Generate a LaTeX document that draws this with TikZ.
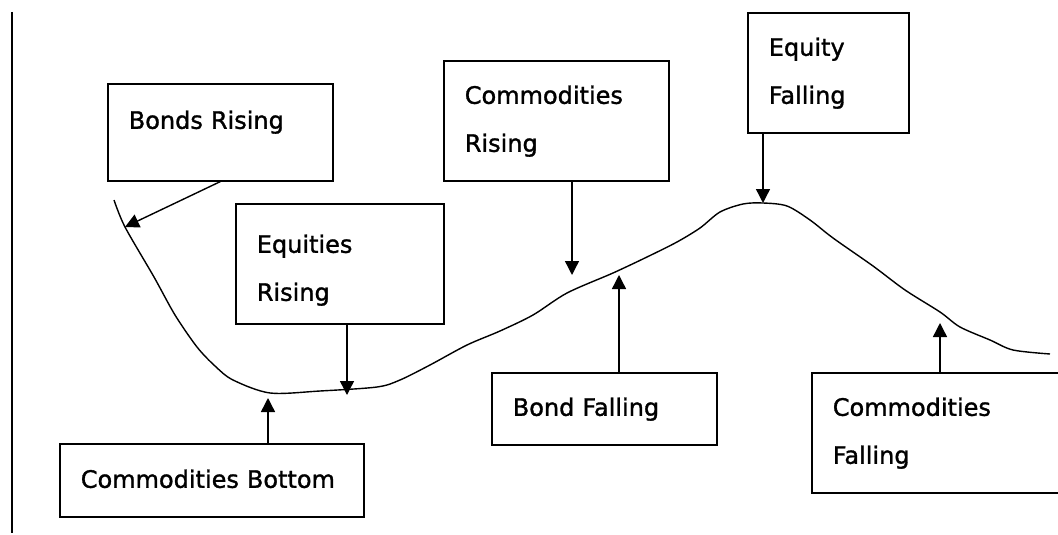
\documentclass[tikz,border=0pt]{standalone}
\usepackage{fontspec}
\setmainfont{DejaVu Sans}[FakeBold=1.3]
\usetikzlibrary{arrows.meta}
\begin{document}
\begin{tikzpicture}[x=1pt, y=-1pt, >={Triangle[width=14pt,length=14pt]},
	stage/.style={draw, line width=1.6pt, anchor=north west, align=left, inner xsep=21pt, inner ysep=0pt,
		font=\fontsize{24}{48}\selectfont},
	tip/.style={->, line width=1.4pt}]
				\useasboundingbox (0,0) rectangle (1058,535);
				% left rule
				\draw[line width=1.6pt] (12,12) -- (12,533);
				
				% market curve
				\draw[line width=1.4pt, smooth, tension=0.5] plot coordinates {(114,200) (125,227) (154,277) (175,315) (197,347) (215,366) (233,380) (270,393) (320,391) (377,387) (400,380) (430,365) (467,345) (500,331) (533,315) (567,293) (613,273) (647,257) (677,242) (700,228) (720,212) (743,204) (763,203) (787,206) (810,220) (833,238) (873,266) (905,290) (940,312) (960,327) (990,340) (1013,350) (1050,354)};
				
				% points on the curve
				\coordinate (pBonds) at (125,227);
				\coordinate (pEqR) at (347,395);
				\coordinate (pComB) at (268,398);
				\coordinate (pComR) at (572,275);
				\coordinate (pBondF) at (619,275);
				\coordinate (pEqF) at (763,203);
				\coordinate (pComF) at (940,323);
				
				% boxes
				\node[stage, text width=183pt, text height=45pt, text depth=52pt] (bondsR) at (107,83) {Bonds Rising};
				\node[stage, text width=166pt, text height=49pt, text depth=71pt] (eqR) at (235,203) {Equities\\Rising};
				\node[stage, text width=183pt, text height=43pt, text depth=77pt] (comR) at (443,60) {Commodities\\Rising};
				\node[stage, text width=119pt, text height=43pt, text depth=77pt] (eqF) at (747,12) {Equity\\Falling};
				\node[stage, text width=262pt, text height=44pt, text depth=29pt] (comB) at (59,443) {Commodities Bottom};
				\node[stage, text width=183pt, text height=43pt, text depth=29pt] (bondF) at (491,372) {Bond Falling};
				\node[stage, text width=218pt, text height=43pt, text depth=77pt] (comF) at (811,372) {Commodities\\Falling};
				
				% arrows
				\draw[tip] (bondsR.south) -- (pBonds);
				\draw[tip] (pEqR |- eqR.south) -- (pEqR);
				\draw[tip] (pComR |- comR.south) -- (pComR);
				\draw[tip] (pEqF |- eqF.south) -- (pEqF);
				\draw[tip] (pComB |- comB.north) -- (pComB);
				\draw[tip] (pBondF |- bondF.north) -- (pBondF);
				\draw[tip] (pComF |- comF.north) -- (pComF);
\end{tikzpicture}
\end{document}
